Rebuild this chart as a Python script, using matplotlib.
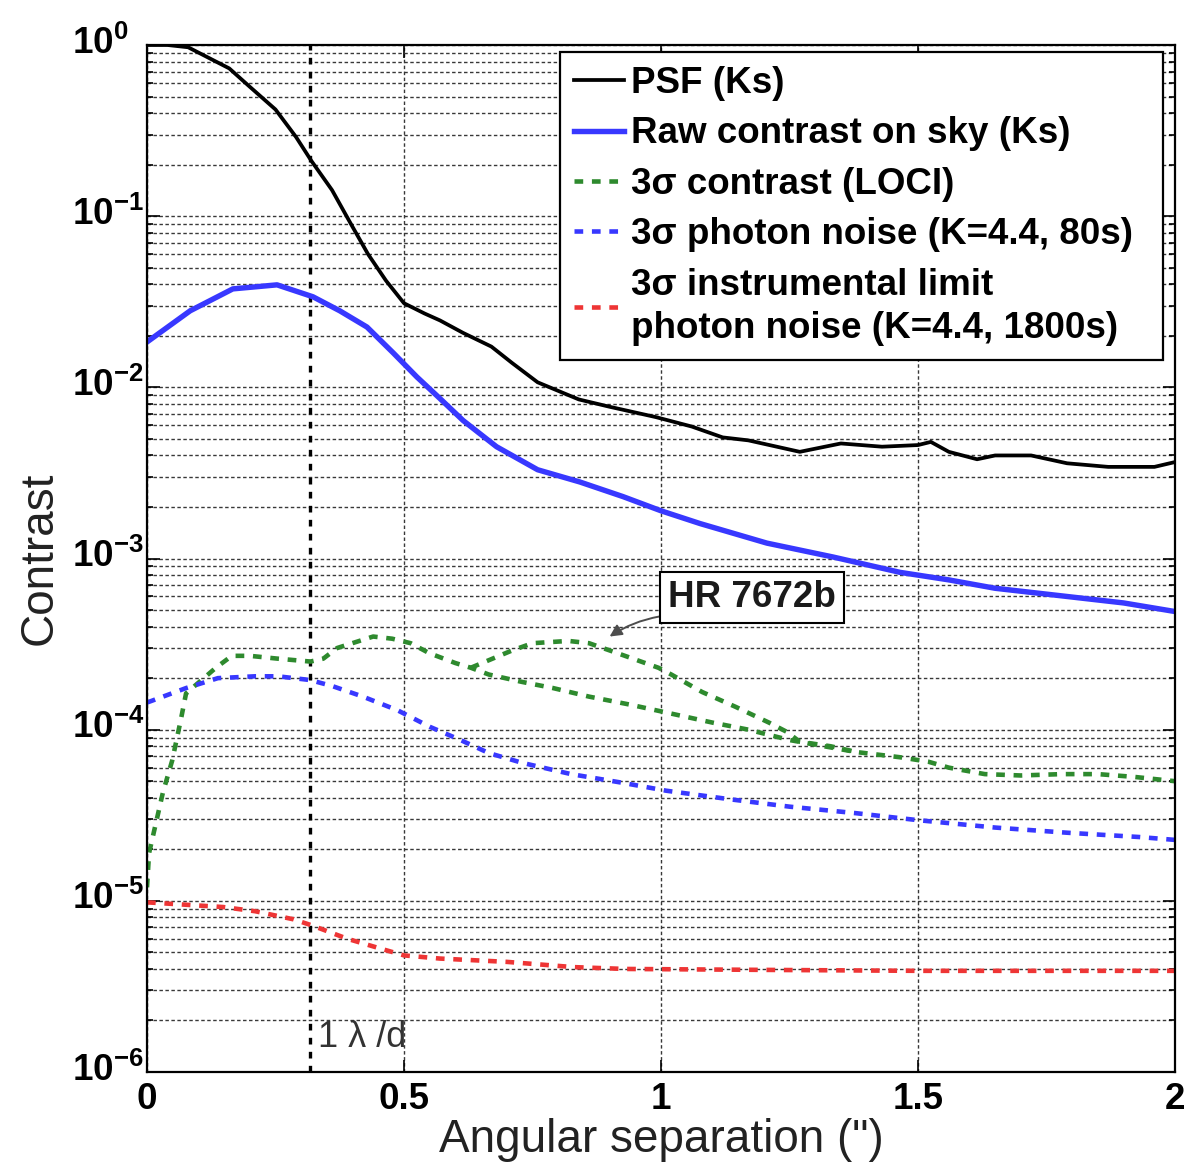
import matplotlib
matplotlib.use("Agg")
import matplotlib.pyplot as plt
import matplotlib.transforms as mtransforms
from matplotlib.ticker import FixedLocator, FixedFormatter, LogLocator, NullLocator, NullFormatter

plt.rcParams['font.family'] = ['Liberation Sans', 'DejaVu Sans']
plt.rcParams['mathtext.fontset'] = 'custom'
plt.rcParams['mathtext.rm'] = 'Liberation Sans'
plt.rcParams['mathtext.bf'] = 'Liberation Sans:bold'
plt.rcParams['mathtext.it'] = 'Liberation Sans:italic'

# ---- data -----------------------------------------------------------------
# PSF profile (Ks)
psf_x = [0.0, 0.04, 0.08, 0.16, 0.20, 0.25, 0.29, 0.32, 0.36, 0.395, 0.43, 0.465,
         0.50, 0.54, 0.57, 0.615, 0.67, 0.71, 0.76, 0.84, 0.90, 0.99, 1.06, 1.12,
         1.17, 1.27, 1.35, 1.43, 1.50, 1.525, 1.56, 1.615, 1.65, 1.72, 1.79, 1.87,
         1.96, 2.0]
psf_y = [1.0, 1.0, 0.97, 0.73, 0.57, 0.42, 0.29, 0.21, 0.142, 0.092, 0.060, 0.042,
         0.031, 0.027, 0.0246, 0.0208, 0.0173, 0.0139, 0.0107, 0.0085, 0.0077,
         0.0067, 0.0059, 0.0051, 0.0049, 0.0042, 0.0047, 0.0045, 0.0046, 0.0048,
         0.0042, 0.0038, 0.0040, 0.0040, 0.0036, 0.00343, 0.00343, 0.00366]

# Raw contrast on sky (Ks)
raw_x = [0.0, 0.084, 0.167, 0.253, 0.323, 0.375, 0.428, 0.479, 0.525, 0.57,
         0.615, 0.68, 0.76, 0.842, 0.926, 1.0, 1.076, 1.206, 1.335, 1.465, 1.56,
         1.65, 1.79, 1.90, 2.0]
raw_y = [0.0184, 0.028, 0.0376, 0.0397, 0.0338, 0.028, 0.0225, 0.0159, 0.0115,
         0.0086, 0.0064, 0.0045, 0.0033, 0.0028, 0.0023, 0.0019, 0.0016,
         0.00123, 0.00102, 0.00083, 0.00075, 0.00067, 0.0006, 0.00055, 0.00049]

# 3 sigma LOCI contrast
loci_x = [0.0, 0.004, 0.031, 0.049, 0.066, 0.076, 0.134, 0.165, 0.20, 0.254, 0.318,
          0.343, 0.37, 0.44, 0.477, 0.513, 0.549, 0.60, 0.63, 0.665, 0.73, 0.79,
          0.86, 0.94, 1.01, 1.10, 1.17, 1.25, 1.38, 1.465, 1.52, 1.56, 1.63, 1.70,
          1.78, 1.85, 1.92, 2.0]
loci_y = [1.2e-5, 1.9e-5, 4.3e-5, 6.6e-5, 1.15e-4, 1.63e-4, 2.3e-4, 2.7e-4, 2.7e-4,
          2.6e-4, 2.5e-4, 2.6e-4, 3.0e-4, 3.5e-4, 3.4e-4, 3.2e-4, 2.8e-4, 2.45e-4,
          2.3e-4, 2.1e-4, 1.9e-4, 1.75e-4, 1.56e-4, 1.4e-4, 1.26e-4, 1.1e-4, 1.0e-4,
          8.7e-5, 7.4e-5, 6.9e-5, 6.5e-5, 6.0e-5, 5.5e-5, 5.4e-5, 5.5e-5, 5.5e-5,
          5.3e-5, 5.0e-5]

# 3 sigma LOCI contrast with the companion in the field
planet_x = [0.63, 0.71, 0.75, 0.82, 0.86, 0.915, 0.995, 1.02, 1.08, 1.145, 1.21,
            1.245, 1.27, 1.33, 1.38]
planet_y = [2.3e-4, 2.9e-4, 3.2e-4, 3.3e-4, 3.2e-4, 2.8e-4, 2.3e-4, 2.1e-4, 1.66e-4,
            1.36e-4, 1.1e-4, 9.7e-5, 8.5e-5, 8.0e-5, 7.4e-5]

# 3 sigma photon noise (K=4.4, 80 s)
pn_x = [0.0, 0.076, 0.138, 0.21, 0.255, 0.317, 0.36, 0.42, 0.487, 0.55, 0.61, 0.665,
        0.73, 0.825, 0.924, 1.01, 1.14, 1.25, 1.38, 1.50, 1.65, 1.79, 1.93, 2.0]
pn_y = [1.44e-4, 1.75e-4, 2.0e-4, 2.05e-4, 2.05e-4, 1.95e-4, 1.8e-4, 1.56e-4, 1.3e-4,
        1.04e-4, 8.7e-5, 7.3e-5, 6.4e-5, 5.5e-5, 4.9e-5, 4.4e-5, 3.9e-5, 3.55e-5,
        3.25e-5, 2.96e-5, 2.68e-5, 2.5e-5, 2.36e-5, 2.27e-5]

# 3 sigma instrumental limit, photon noise (K=4.4, 1800 s)
inst_x = [0.0, 0.148, 0.21, 0.285, 0.32, 0.39, 0.46, 0.50, 0.57, 0.70, 0.83, 0.93,
          1.2, 1.5, 1.8, 2.0]
inst_y = [9.8e-6, 9.2e-6, 8.7e-6, 7.8e-6, 7.2e-6, 6.0e-6, 5.2e-6, 4.8e-6, 4.6e-6,
          4.4e-6, 4.1e-6, 4.0e-6, 3.95e-6, 3.9e-6, 3.9e-6, 3.9e-6]

lambda_over_d = 0.317
x_ticks = [0, 0.5, 1, 1.5, 2]
x_tick_labels = ['0', '0.5', '1', '1.5', '2']
y_exponents = [-6, -5, -4, -3, -2, -1, 0]

# ---- figure ---------------------------------------------------------------
fig = plt.figure(figsize=(11.85, 11.62), dpi=100)
ax = fig.add_axes([0.12405, 0.07745, 0.86751, 0.88382])
ax.set_yscale('log')
ax.set_xlim(0, 2)
ax.set_ylim(1e-6, 1)
ax.set_axisbelow(True)

dots = (0, (1.9, 1.9))
blue = '#3838ff'
green = '#2e8a2e'
red = '#ee3535'
dot_lw = 3.3

ax.plot(psf_x, psf_y, color='black', lw=2.7, label='PSF (Ks)')
ax.plot(raw_x, raw_y, color=blue, lw=3.9, label='Raw contrast on sky (Ks)')
ax.plot(loci_x, loci_y, color=green, lw=dot_lw, ls=dots, dash_capstyle='butt',
        label='3σ contrast (LOCI)')
ax.plot(planet_x, planet_y, color=green, lw=dot_lw, ls=dots, dash_capstyle='butt')
ax.plot(pn_x, pn_y, color=blue, lw=dot_lw, ls=dots, dash_capstyle='butt',
        label='3σ photon noise (K=4.4, 80s)')
# trailing spaces keep the wide right margin of the legend box
ax.plot(inst_x, inst_y, color=red, lw=dot_lw, ls=dots, dash_capstyle='butt',
        label='3σ instrumental limit\nphoton noise (K=4.4, 1800s)   ')

ax.axvline(lambda_over_d, color='black', lw=2.4, ls=(0, (2.0, 2.2)), zorder=1.5)
ax.text(lambda_over_d + 0.016, 1.6e-6, '1 λ /d', fontsize=26, color='#333333',
        ha='left', va='center')

ax.annotate('HR 7672b', xy=(0.90, 3.5e-4), xytext=(1.177, 5.9e-4),
            fontsize=26.5, fontweight='bold', color='#1a1a1a', ha='center', va='center',
            bbox=dict(boxstyle='square,pad=0.22', fc='white', ec='black', lw=1.5),
            arrowprops=dict(arrowstyle='-|>', color='0.3', lw=1.4,
                            connectionstyle='arc3,rad=0.12', relpos=(0.0, 0.0),
                            shrinkA=0, shrinkB=0, mutation_scale=18))

# grid, ticks
grid_style = dict(color='0.22', lw=1.0, ls=(0, (2.5, 1.8)))
ax.yaxis.grid(True, which='both', **grid_style)
ax.xaxis.grid(True, which='major', **grid_style)

ax.xaxis.set_major_locator(FixedLocator(x_ticks))
ax.xaxis.set_major_formatter(FixedFormatter(x_tick_labels))
ax.xaxis.set_minor_locator(NullLocator())
ax.yaxis.set_major_locator(FixedLocator([10.0 ** e for e in y_exponents]))
ax.yaxis.set_major_formatter(FixedFormatter(
    [r'$\mathbf{10^{%d}}$' % e for e in y_exponents]))
ax.yaxis.set_minor_locator(LogLocator(base=10, subs=range(2, 10), numticks=20))
ax.yaxis.set_minor_formatter(NullFormatter())

ax.tick_params(which='both', direction='in', top=True, right=True, width=1.2)
ax.tick_params(which='major', length=9)
ax.tick_params(which='minor', length=4)
ax.tick_params(axis='x', labelsize=26.5, pad=7.5)
ax.tick_params(axis='y', labelsize=26.5, pad=54)
for lab in ax.get_xticklabels():
    lab.set_fontweight('bold')

# decade labels: left-aligned so the "10" parts line up, nudged slightly upward
lift = mtransforms.ScaledTranslation(0, 4 / 72, fig.dpi_scale_trans)
for tick in ax.yaxis.get_major_ticks():
    tick.label1.set_horizontalalignment('left')
    tick.label1.set_transform(tick.label1.get_transform() + lift)

for sp in ax.spines.values():
    sp.set_linewidth(1.6)

ax.set_xlabel('Angular separation (")', fontsize=33, color='#222222',
              va='center')
ax.xaxis.set_label_coords(0.5, -0.066)
ax.set_ylabel('Contrast', fontsize=33, color='#222222', va='center')
ax.yaxis.set_label_coords(-0.104, 0.5)

leg = ax.legend(loc='upper right', bbox_to_anchor=(0.9883, 0.9932), borderaxespad=0,
                prop={'weight': 'bold', 'size': 26.5}, fancybox=False,
                edgecolor='black', framealpha=1, handlelength=1.35,
                handletextpad=0.2, labelspacing=0.42, borderpad=0.38)
leg.get_frame().set_linewidth(1.6)
for t in leg.get_texts():
    t.set_linespacing(1.3)

fig.savefig('out.png', dpi=100, facecolor='white')
